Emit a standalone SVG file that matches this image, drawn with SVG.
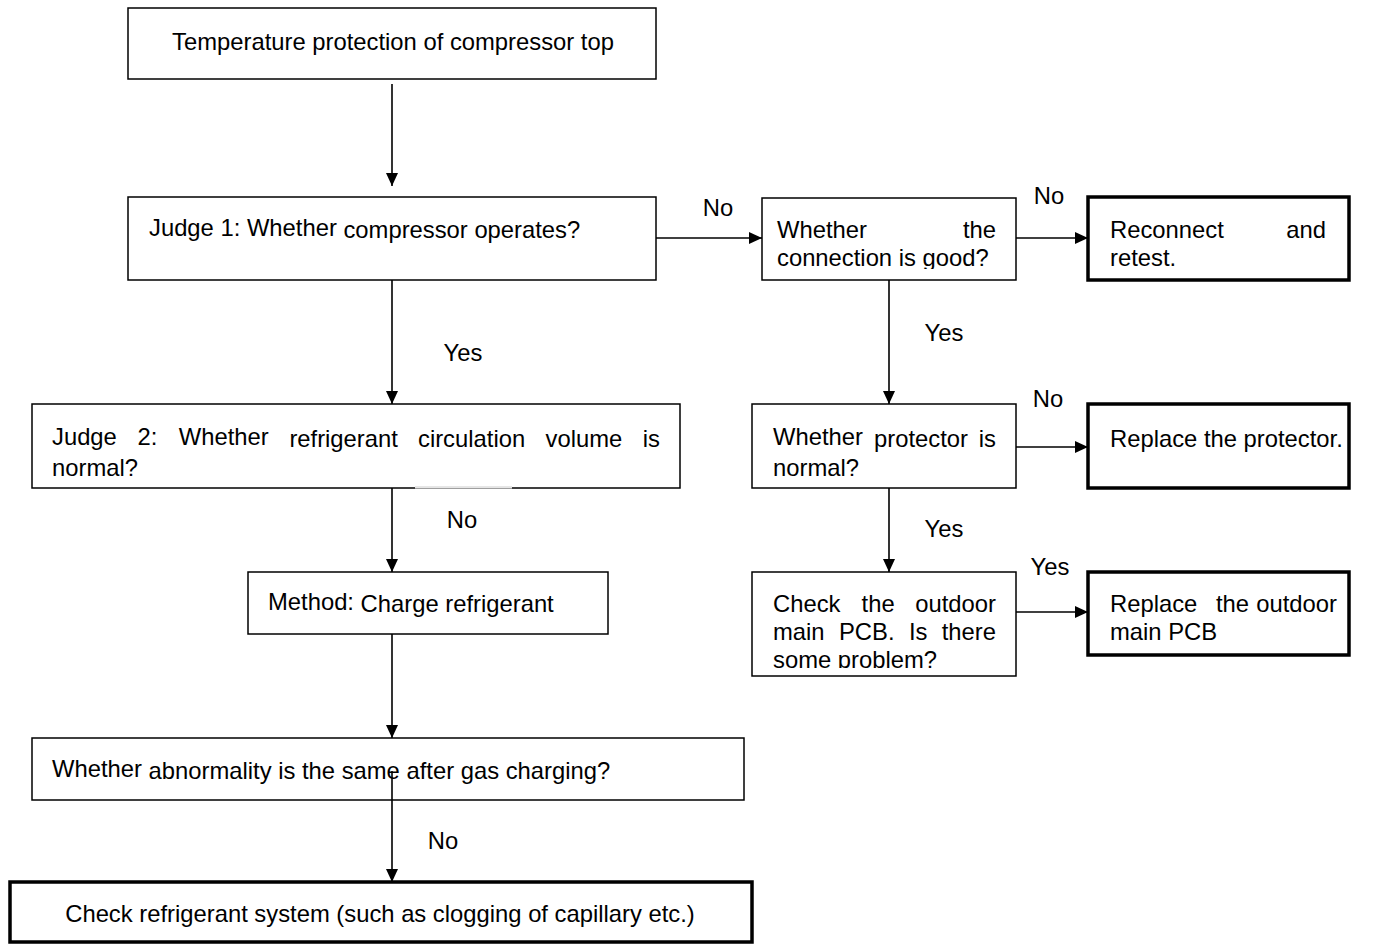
<svg xmlns="http://www.w3.org/2000/svg" width="1386" height="944" viewBox="0 0 1386 944">
  <style>
    text { font-family: "Liberation Sans", Arial, sans-serif; font-size: 23.8px; fill: #000; }
    .box { fill: #fff; stroke: #000; stroke-width: 1.5; }
    .end { fill: #fff; stroke: #000; stroke-width: 3.5; }
    .wire { fill: none; stroke: #000; stroke-width: 1.6; }
    .mid { text-anchor: middle; }
    .r { text-anchor: end; }
  </style>
  <defs>
    <marker id="arrow" markerUnits="userSpaceOnUse" markerWidth="14" markerHeight="12" refX="13" refY="6" orient="auto">
      <path d="M0,0 L13,6 L0,12 Z" fill="#000"/>
    </marker>
    <clipPath id="clipConn"><rect x="762" y="198" width="254" height="71"/></clipPath>
    <clipPath id="clipPcb"><rect x="752" y="572" width="264" height="96"/></clipPath>
  </defs>

  <!-- connectors -->
  <g id="connectors">
    <line class="wire" x1="392" y1="84" x2="392" y2="186" marker-end="url(#arrow)"/>
    <line class="wire" x1="656" y1="238" x2="762" y2="238" marker-end="url(#arrow)"/>
    <line class="wire" x1="1016" y1="238" x2="1088" y2="238" marker-end="url(#arrow)"/>
    <line class="wire" x1="889" y1="280" x2="889" y2="404" marker-end="url(#arrow)"/>
    <line class="wire" x1="1016" y1="447" x2="1088" y2="447" marker-end="url(#arrow)"/>
    <line class="wire" x1="889" y1="488" x2="889" y2="572" marker-end="url(#arrow)"/>
    <line class="wire" x1="1016" y1="612" x2="1088" y2="612" marker-end="url(#arrow)"/>
    <line class="wire" x1="392" y1="280" x2="392" y2="404" marker-end="url(#arrow)"/>
    <line class="wire" x1="392" y1="488" x2="392" y2="572" marker-end="url(#arrow)"/>
    <line class="wire" x1="392" y1="634" x2="392" y2="738" marker-end="url(#arrow)"/>
    <text class="mid" x="718" y="216">No</text>
    <text class="mid" x="1049" y="204">No</text>
    <text class="mid" x="944" y="341">Yes</text>
    <text class="mid" x="1048" y="407">No</text>
    <text class="mid" x="944" y="537">Yes</text>
    <text class="mid" x="1050" y="575">Yes</text>
    <text class="mid" x="463" y="361">Yes</text>
    <text class="mid" x="462" y="528">No</text>
    <text class="mid" x="443" y="849">No</text>
  </g>

  <g id="start">
    <rect class="box" x="128" y="8" width="528" height="71"/>
    <text class="mid" x="393" y="50">Temperature protection of compressor top</text>
  </g>

  <g id="judge1">
    <rect class="box" x="128" y="197" width="528" height="83"/>
    <text x="149" y="236">Judge 1: Whether <tspan dy="2">compressor operates?</tspan></text>
  </g>

  <g id="connection">
    <rect class="box" x="762" y="198" width="254" height="82"/>
    <g clip-path="url(#clipConn)">
      <text x="777" y="238">Whether</text>
      <text class="r" x="996" y="238">the</text>
      <text x="777" y="266">connection is good?</text>
    </g>
  </g>

  <g id="reconnect">
    <rect class="end" x="1088" y="197" width="261" height="83"/>
    <text x="1110" y="238">Reconnect</text>
    <text class="r" x="1326" y="238">and</text>
    <text x="1110" y="266">retest.</text>
  </g>

  <g id="protector">
    <rect class="box" x="752" y="404" width="264" height="84"/>
    <text x="773" y="445">Whether</text>
    <text x="874" y="447">protector</text>
    <text class="r" x="996" y="447">is</text>
    <text x="773" y="476">normal?</text>
  </g>

  <g id="replace-protector">
    <rect class="end" x="1088" y="404" width="261" height="84"/>
    <text x="1110" y="447">Replace the protector.</text>
  </g>

  <g id="pcb-check">
    <rect class="box" x="752" y="572" width="264" height="104"/>
    <g clip-path="url(#clipPcb)">
      <text x="773" y="612">Check</text>
      <text x="861.6" y="612">the</text>
      <text class="r" x="996" y="612">outdoor</text>
      <text x="773" y="640">main</text>
      <text x="839" y="640">PCB.</text>
      <text x="909" y="640">Is</text>
      <text class="r" x="996" y="640">there</text>
      <text x="773" y="668">some problem?</text>
    </g>
  </g>

  <g id="replace-pcb">
    <rect class="end" x="1088" y="572" width="261" height="83"/>
    <text x="1110" y="612">Replace</text>
    <text x="1216" y="612">the</text>
    <text class="r" x="1337" y="612">outdoor</text>
    <text x="1110" y="640">main PCB</text>
  </g>

  <g id="judge2">
    <rect class="box" x="32" y="404" width="648" height="84"/>
    <line x1="415" y1="487.5" x2="512" y2="487.5" stroke="#fff" stroke-width="2"/>
    <line x1="415" y1="487" x2="512" y2="487" stroke="#cccccc" stroke-width="1"/>
    <text x="52" y="445">Judge</text>
    <text x="137.6" y="445">2:</text>
    <text x="178.8" y="445">Whether</text>
    <text x="289.4" y="447">refrigerant</text>
    <text x="418" y="447">circulation</text>
    <text x="545.6" y="447">volume</text>
    <text class="r" x="660" y="447">is</text>
    <text x="52" y="476">normal?</text>
  </g>

  <g id="method">
    <rect class="box" x="248" y="572" width="360" height="62"/>
    <text x="268" y="610">Method: <tspan dy="2">Charge refrigerant</tspan></text>
  </g>

  <g id="recheck">
    <rect class="box" x="32" y="738" width="712" height="62"/>
    <text x="52" y="777">Whether <tspan dy="2">abnormality is the same after gas charging?</tspan></text>
    <line class="wire" x1="392" y1="771" x2="392" y2="882" marker-end="url(#arrow)"/>
  </g>

  <g id="refrigerant-system">
    <rect class="end" x="10" y="882" width="742" height="60"/>
    <text class="mid" x="380" y="922">Check refrigerant system (such as clogging of capillary etc.)</text>
  </g>
</svg>
